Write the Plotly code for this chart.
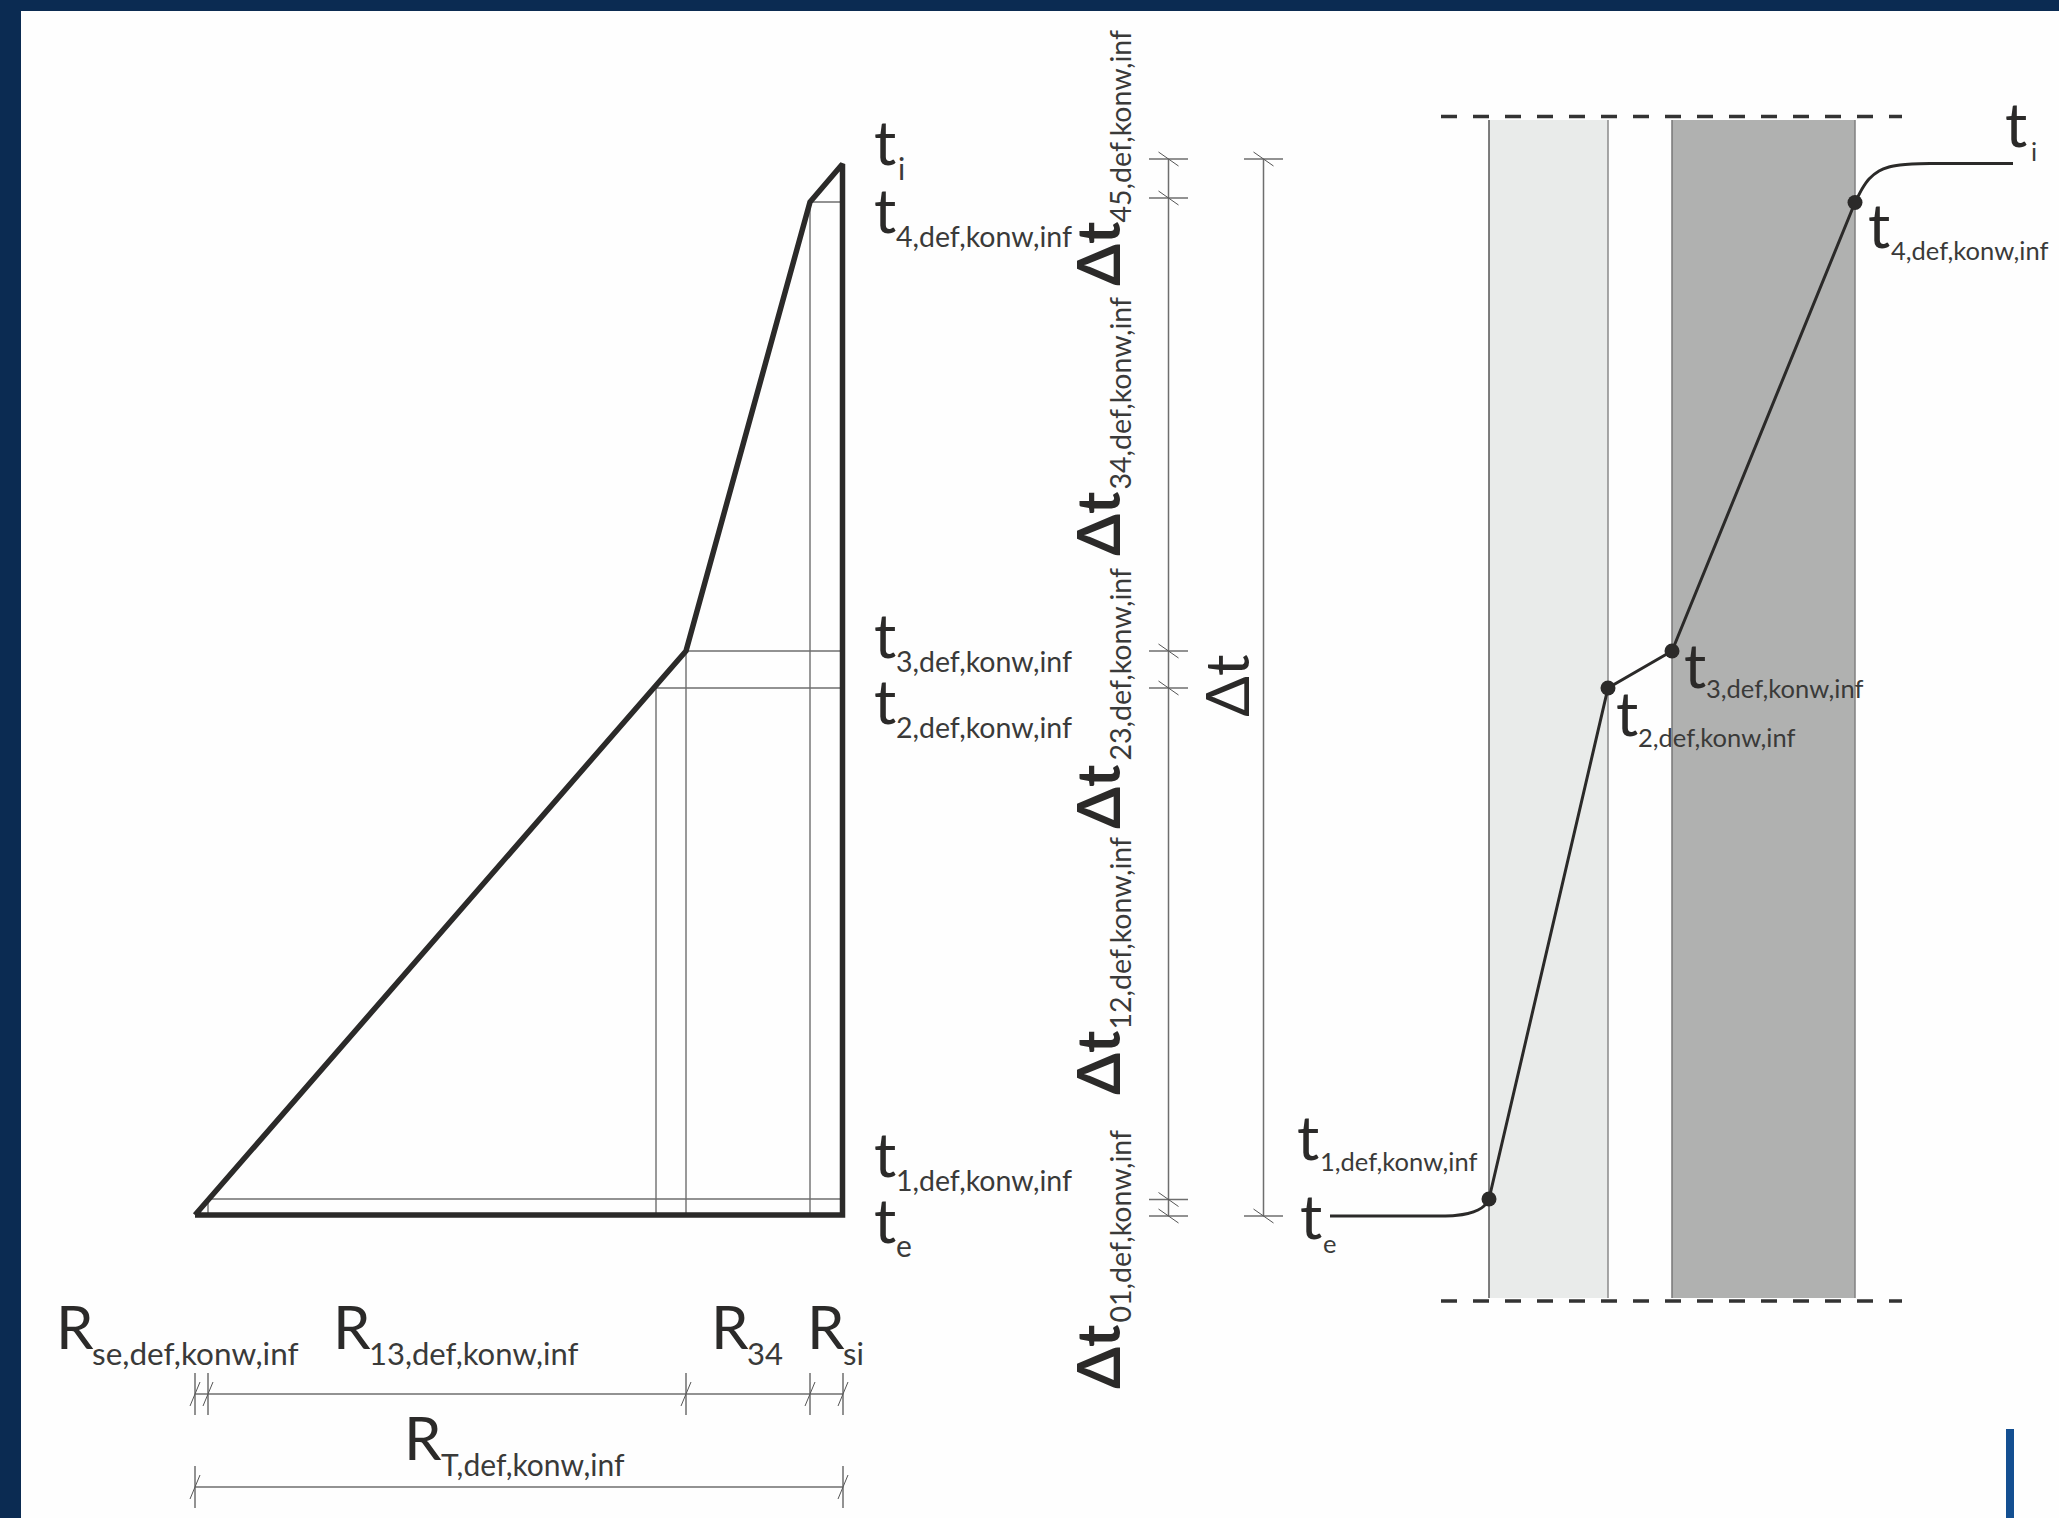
import plotly.graph_objects as go

# Values, in image pixels
R_positions = [195, 208, 656, 686, 810, 842.5]       # x of R boundaries
t_levels = {"ti": 163.5, "t4": 202, "t3": 651, "t2": 688, "t1": 1199, "te": 1216}
layer_x = [1489, 1608, 1672, 1855]                    # wall layer faces
layer_top, layer_bottom = 120, 1298
dash_y = [116.5, 1301]
dash_x = [1441, 1902]

triangle_x = [195, 686, 810, 842.5, 842.5, 195, 195]
triangle_y = [1215, 651, 202, 164, 1215, 1215, 1215]

curve_e_x = [1330, 1440, 1455, 1468, 1478, 1484, 1489]
curve_e_y = [1216, 1216, 1215.5, 1213.5, 1210, 1206, 1199]
profile_x = [1489, 1608, 1672, 1855]
profile_y = [1199, 688, 651, 202.5]
curve_i_x = [1855, 1862, 1869, 1879, 1889, 1900, 1912, 1930, 2013]
curve_i_y = [202.5, 189, 179, 171, 167, 165, 164, 163.5, 163.4]

dim_R_x = [195, 208, 686, 810, 843]
dim_T_x = [195, 843]
dim_dt_levels = [159, 198, 651, 688, 1199.5, 1216]
dim_total_levels = [159, 1216]

FONT = "Lato"
INK = "#2b2a29"
SUBINK = "#3a3a39"
THIN = "#6e6e6e"

fig = go.Figure()


def segs(pairs, color=THIN, width=1.4):
    xs, ys = [], []
    for (x0, y0, x1, y1) in pairs:
        xs += [x0, x1, None]
        ys += [y0, y1, None]
    fig.add_trace(go.Scatter(x=xs, y=ys, mode="lines", hoverinfo="skip",
                             line=dict(color=color, width=width)))


# Thin construction lines in the triangle
x0, x1, x2, x3, x4, x5 = R_positions
L = t_levels
segs([(x4, L["t4"], x5, L["t4"]), (x3, L["t3"], x5, L["t3"]), (x2, L["t2"], x5, L["t2"]),
      (x1, L["t1"], x5, L["t1"]), (x2, L["t2"], x2, 1215), (x3, L["t3"], x3, 1215),
      (x4, L["t4"], x4, 1215), (x1, L["t1"], x1, 1215)])

# Triangle outline
fig.add_trace(go.Scatter(x=triangle_x, y=triangle_y, mode="lines", hoverinfo="skip",
                         line=dict(color=INK, width=5.5)))

# Horizontal dimension lines
for xs_dim, yd in ((dim_R_x, 1394), (dim_T_x, 1487)):
    pairs = [(xs_dim[0], yd, xs_dim[-1], yd)]
    for xv in xs_dim:
        pairs.append((xv, yd - 21, xv, yd + 21))
    segs(pairs, width=1.5)
    segs([(xv + 5, yd - 12, xv - 5, yd + 12) for xv in xs_dim], color="#555555", width=1)

# Vertical dimension lines
for xd, levels, hw in ((1168.5, dim_dt_levels, 19.5), (1263.5, dim_total_levels, 19.5)):
    pairs = [(xd, levels[0], xd, levels[-1])]
    for yv in levels:
        pairs.append((xd - hw, yv, xd + hw, yv))
    segs(pairs, width=1.5)
    segs([(xd - 10, yv - 7, xd + 10, yv + 7) for yv in levels], color="#555555", width=1)

# Dashed limits
for yd in dash_y:
    fig.add_trace(go.Scatter(x=dash_x, y=[yd, yd], mode="lines", hoverinfo="skip",
                             line=dict(color="#333333", width=3.5, dash="16px,16px")))

# Temperature profile
for cx, cy in ((curve_e_x, curve_e_y), (curve_i_x, curve_i_y)):
    fig.add_trace(go.Scatter(x=cx, y=cy, mode="lines", hoverinfo="skip",
                             line=dict(color=INK, width=3, shape="spline", smoothing=0.5)))
fig.add_trace(go.Scatter(x=profile_x, y=profile_y, mode="lines+markers", hoverinfo="skip",
                         line=dict(color=INK, width=3),
                         marker=dict(color=INK, size=15, line=dict(width=0))))


# Text helpers
def txt(s, x, base, size, color=INK, bold=False):
    fig.add_annotation(x=x - 1, y=base - 0.387 * size, text=f"<b>{s}</b>" if bold else s,
                       xanchor="left", yanchor="middle", showarrow=False,
                       font=dict(family=FONT, size=size, color=color))


def label(main, sub, tx, tbase, sx, sbase, sub_size, main_size=62):
    txt(sub, sx, sbase, sub_size, SUBINK)
    txt(main, tx, tbase, main_size)


def rot(s, base_x, start_y, size, color=INK, bold=False):
    fig.add_annotation(x=base_x - 0.387 * size, y=start_y, text=f"<b>{s}</b>" if bold else s,
                       textangle=-90, xanchor="center", yanchor="bottom", showarrow=False,
                       font=dict(family=FONT, size=size, color=color))


tail = ",def,konw,inf"
left_t_labels = [("i", 873, 165, 897, 180, 30), ("4" + tail, 873, 233, 895, 247, 28.5),
                 ("3" + tail, 873, 658, 895, 672, 28.5), ("2" + tail, 873, 724, 895, 738, 28.5),
                 ("1" + tail, 873, 1177, 895, 1191, 28.5), ("e", 873, 1243, 895, 1257, 30)]
for s, tx, tb, sx, sb, ss in left_t_labels:
    label("t", s, tx, tb, sx, sb, ss)

right_t_labels = [("i", 2004, 147, 2030, 161), ("4" + tail, 1867, 248, 1890, 260),
                  ("3" + tail, 1683, 688, 1705, 698), ("2" + tail, 1615, 736, 1637, 747),
                  ("1" + tail, 1296, 1160, 1319, 1171), ("e", 1299, 1239, 1322, 1253)]
for s, tx, tb, sx, sb in right_t_labels:
    label("t", s, tx, tb, sx, sb, 25.5)

R_labels = [("se" + tail, 55, 1349, 91, 1365, 31.5), ("13" + tail, 332, 1349, 368, 1365, 31),
            ("34", 710, 1349, 746, 1365, 31), ("si", 806, 1349, 842, 1365, 31),
            ("T" + tail, 403, 1460, 440, 1476, 30)]
for s, tx, tb, sx, sb, ss in R_labels:
    label("R", s, tx, tb, sx, sb, ss, main_size=60)

delta_labels = [("45", 287, 221), ("34", 557, 488), ("23", 830, 759), ("12", 1096, 1028), ("01", 1390, 1321)]
for s, dy, sy in delta_labels:
    rot(s + tail, 1131, sy + 3, 28.5, SUBINK)
    rot("Δt", 1120, dy + 1, 60, bold=True)
rot("Δt", 1249, 719, 60)

fig.update_layout(
    width=2059, height=1518, autosize=False, showlegend=False,
    margin=dict(l=0, r=0, t=0, b=0, pad=0),
    paper_bgcolor="#fefefe", plot_bgcolor="#fefefe",
    xaxis=dict(range=[0, 2059], visible=False, fixedrange=True),
    yaxis=dict(range=[1518, 0], visible=False, fixedrange=True),
    shapes=[
        dict(type="rect", xref="x", yref="y", x0=layer_x[0], x1=layer_x[1], y0=layer_top, y1=layer_bottom,
             fillcolor="#e9ebea", line=dict(width=0), layer="below"),
        dict(type="rect", xref="x", yref="y", x0=layer_x[2], x1=layer_x[3], y0=layer_top, y1=layer_bottom,
             fillcolor="#b0b1b0", line=dict(width=0), layer="below"),
        dict(type="line", xref="x", yref="y", x0=layer_x[0], x1=layer_x[0], y0=layer_top, y1=layer_bottom,
             line=dict(color="#555555", width=1.5), layer="below"),
        dict(type="line", xref="x", yref="y", x0=layer_x[1], x1=layer_x[1], y0=layer_top, y1=layer_bottom,
             line=dict(color="#8a8a8a", width=1.5), layer="below"),
        dict(type="line", xref="x", yref="y", x0=layer_x[2], x1=layer_x[2], y0=layer_top, y1=layer_bottom,
             line=dict(color="#777777", width=1.5), layer="below"),
        dict(type="line", xref="x", yref="y", x0=layer_x[3], x1=layer_x[3], y0=layer_top, y1=layer_bottom,
             line=dict(color="#808080", width=1.5), layer="below"),
        # page frame and the corner accent
        dict(type="rect", xref="x", yref="y", x0=0, x1=21, y0=0, y1=1518, fillcolor="#0b2b52", line=dict(width=0)),
        dict(type="rect", xref="x", yref="y", x0=0, x1=2059, y0=0, y1=11, fillcolor="#0b2b52", line=dict(width=0)),
        dict(type="rect", xref="x", yref="y", x0=2006, x1=2014, y0=1429, y1=1518, fillcolor="#134f91", line=dict(width=0)),
    ],
)

fig.write_html("out.html", config={"displayModeBar": False},
               post_script="document.body.style.margin='0';document.documentElement.style.overflow='hidden';")
